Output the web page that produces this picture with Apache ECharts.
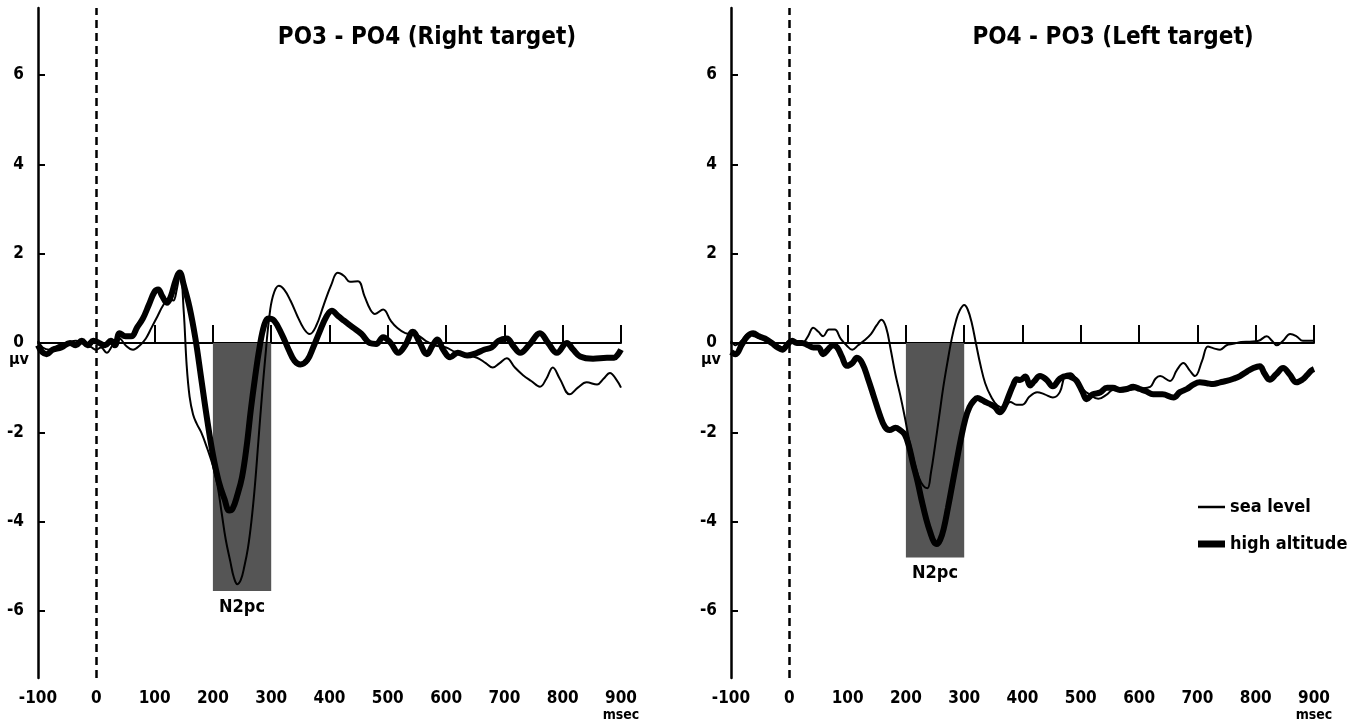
<!DOCTYPE html>
<html>
<head>
<meta charset="utf-8">
<title>N2pc difference waves</title>
<script src="https://cdn.jsdelivr.net/npm/echarts@6/dist/echarts.min.js"></script>
<style>
  html, body { margin: 0; padding: 0; background: #fff; }
  #chart { width: 1355px; height: 727px; }
</style>
</head>
<body>
<div id="chart"></div>
<script>
// 刻度
const xTicks = [-100, 0, 100, 200, 300, 400, 500, 600, 700, 800, 900];
const yTicks = [-6, -4, -2, 0, 2, 4, 6];
const baseTicks = [100, 200, 300, 400, 500, 600, 700, 800, 900];

// 左图 PO3 - PO4 (Right target), sea level
const leftSeaT = [-100, -92, -80, -65, -50, -35, -20, -8, 0, 8, 18, 28, 40, 50, 63, 75, 85, 95, 105, 115, 125, 132, 138, 144, 150, 155, 160, 166, 172, 180, 190, 200, 208, 215, 222, 230, 236, 242, 248, 254, 260, 266, 272, 278, 284, 290, 296, 303, 313, 322, 333, 345, 356, 366, 377, 390, 403, 414, 425, 435, 449, 460, 470, 478, 492, 505, 516, 530, 550, 565, 580, 600, 615, 630, 653, 668, 680, 692, 704, 718, 732, 746, 761, 772, 783, 795, 812, 826, 841, 859, 870, 881, 892, 900];
const leftSeaV = [0.05, -0.1, -0.15, -0.05, 0.0, 0.05, 0.0, -0.1, -0.15, -0.1, -0.22, -0.05, 0.1, -0.05, -0.15, -0.05, 0.1, 0.35, 0.6, 0.85, 1.0, 0.95, 1.2, 1.58, 0.7, -0.5, -1.2, -1.6, -1.8, -2.0, -2.35, -2.75, -3.2, -3.8, -4.4, -4.9, -5.25, -5.4, -5.3, -5.0, -4.6, -4.0, -3.2, -2.2, -1.2, -0.3, 0.5, 1.05, 1.28, 1.2, 0.95, 0.6, 0.32, 0.2, 0.38, 0.85, 1.3, 1.57, 1.5, 1.37, 1.38, 1.05, 0.75, 0.65, 0.75, 0.5, 0.34, 0.22, 0.18, 0.05, -0.05, -0.1, -0.2, -0.25, -0.33, -0.45, -0.55, -0.45, -0.34, -0.55, -0.72, -0.85, -0.98, -0.8, -0.55, -0.8, -1.15, -1.0, -0.88, -0.93, -0.8, -0.67, -0.82, -1.0];

// 左图 high altitude
const leftHighT = [-100, -93, -85, -75, -60, -45, -35, -25, -15, -5, 5, 15, 25, 32, 40, 50, 60, 70, 80, 90, 100, 106, 113, 121, 128, 136, 143, 150, 160, 170, 180, 190, 200, 210, 220, 228, 234, 242, 250, 258, 265, 272, 280, 288, 295, 305, 318, 330, 340, 350, 362, 372, 383, 395, 404, 415, 425, 440, 455, 469, 480, 492, 505, 518, 530, 543, 555, 567, 577, 585, 595, 607, 620, 636, 653, 665, 678, 690, 704, 716, 727, 742, 761, 775, 790, 807, 818, 830, 852, 876, 888, 895, 900];
const leftHighV = [-0.05, -0.2, -0.25, -0.15, -0.1, 0.0, -0.05, 0.05, -0.05, 0.05, 0.0, -0.05, 0.05, -0.05, 0.22, 0.15, 0.15, 0.35, 0.55, 0.85, 1.15, 1.2, 1.05, 0.9, 1.05, 1.4, 1.58, 1.3, 0.8, 0.1, -0.8, -1.7, -2.5, -3.1, -3.5, -3.75, -3.7, -3.4, -3.0, -2.3, -1.5, -0.8, -0.1, 0.4, 0.55, 0.5, 0.2, -0.15, -0.4, -0.48, -0.38, -0.1, 0.25, 0.6, 0.72, 0.6, 0.5, 0.35, 0.2, 0.0, -0.02, 0.13, 0.0, -0.22, -0.05, 0.25, 0.0, -0.25, -0.05, 0.08, -0.15, -0.32, -0.22, -0.28, -0.22, -0.15, -0.1, 0.05, 0.1, -0.08, -0.22, -0.05, 0.22, 0.0, -0.22, 0.0, -0.15, -0.3, -0.35, -0.33, -0.33, -0.25, -0.15];

// 右图 PO4 - PO3 (Left target), sea level
const rightSeaT = [-100, -92, -82, -70, -60, -50, -35, -20, -10, 0, 10, 22, 32, 41, 50, 58, 68, 78, 88, 98, 108, 118, 128, 140, 150, 158, 166, 174, 182, 190, 198, 206, 214, 222, 230, 237, 243, 250, 257, 264, 271, 279, 286, 292, 300, 306, 313, 320, 328, 336, 346, 357, 368, 379, 390, 400, 412, 425, 438, 452, 464, 473, 482, 493, 505, 515, 530, 545, 555, 570, 585, 600, 619, 628, 636, 653, 665, 676, 686, 696, 708, 718, 728, 739, 750, 761, 775, 790, 805, 819, 828, 836, 847, 859, 870, 881, 892, 900];
const rightSeaV = [0.05, -0.05, 0.05, 0.2, 0.15, 0.1, 0.05, -0.05, -0.1, 0.05, 0.05, 0.0, 0.15, 0.34, 0.25, 0.15, 0.3, 0.3, 0.1, -0.05, -0.15, -0.05, 0.05, 0.2, 0.4, 0.52, 0.35, -0.15, -0.7, -1.15, -1.65, -2.2, -2.65, -3.0, -3.2, -3.25, -2.9, -2.3, -1.65, -1.0, -0.45, 0.12, 0.5, 0.72, 0.85, 0.75, 0.45, 0.0, -0.5, -0.9, -1.2, -1.4, -1.45, -1.32, -1.38, -1.38, -1.2, -1.1, -1.15, -1.22, -1.1, -0.72, -0.68, -0.82, -1.05, -1.15, -1.25, -1.15, -1.05, -1.08, -1.05, -1.02, -0.98, -0.8, -0.74, -0.85, -0.6, -0.45, -0.6, -0.74, -0.4, -0.08, -0.12, -0.15, -0.05, -0.02, 0.02, 0.03, 0.05, 0.15, 0.05, -0.05, 0.05, 0.2, 0.15, 0.05, 0.05, 0.05];

// 右图 high altitude
const rightHighT = [-100, -92, -82, -72, -62, -52, -42, -30, -20, -12, -4, 5, 13, 22, 32, 41, 50, 58, 66, 75, 82, 90, 99, 108, 116, 125, 135, 145, 155, 164, 172, 182, 190, 198, 205, 212, 220, 227, 235, 242, 248, 253, 259, 265, 272, 279, 287, 294, 302, 309, 316, 323, 331, 338, 346, 353, 361, 368, 375, 384, 390, 396, 405, 413, 420, 430, 441, 452, 464, 476, 486, 493, 503, 510, 520, 533, 545, 555, 567, 579, 590, 601, 612, 624, 640, 659, 670, 682, 693, 704, 716, 727, 739, 750, 762, 773, 785, 796, 807, 815, 824, 835, 847, 858, 870, 880, 888, 896, 900];
const rightHighV = [-0.2, -0.25, -0.05, 0.15, 0.22, 0.15, 0.1, 0.0, -0.1, -0.15, -0.05, 0.05, 0.0, 0.0, -0.05, -0.1, -0.1, -0.25, -0.15, -0.05, -0.1, -0.3, -0.51, -0.45, -0.33, -0.45, -0.8, -1.2, -1.6, -1.88, -1.95, -1.9, -1.95, -2.05, -2.3, -2.69, -3.1, -3.52, -3.95, -4.25, -4.45, -4.5, -4.4, -4.15, -3.7, -3.21, -2.65, -2.17, -1.7, -1.44, -1.3, -1.23, -1.28, -1.33, -1.38, -1.44, -1.55, -1.45, -1.23, -0.94, -0.81, -0.83, -0.75, -0.95, -0.86, -0.74, -0.82, -0.97, -0.8, -0.74, -0.78, -0.85, -1.1, -1.26, -1.15, -1.11, -1.0, -1.0, -1.05, -1.03, -0.98, -1.03, -1.08, -1.15, -1.15, -1.22, -1.1, -1.03, -0.93, -0.88, -0.9, -0.92, -0.88, -0.85, -0.8, -0.74, -0.64, -0.56, -0.52, -0.68, -0.82, -0.7, -0.56, -0.7, -0.88, -0.82, -0.72, -0.61, -0.58];

// N2pc 时间窗和灰色矩形下沿
const n2pcWindow = [200, 300];
const n2pcBottom = [-5.55, -4.8];

const FONT = "'Liberation Sans Narrow', 'Arial Narrow', 'DejaVu Sans Condensed', sans-serif";

function zip(t, v) {
    return t.map((x, i) => [x, v[i]]);
}

const chart = echarts.init(document.getElementById('chart'), null, { renderer: 'canvas' });

const grids = [
    { left: 38, top: 8, width: 583, height: 670 },
    { left: 731, top: 8, width: 583, height: 670 }
];

function labelAxis(gridIndex) {
    return {
        type: 'value', gridIndex: gridIndex, position: 'bottom',
        min: -100, max: 900, interval: 100,
        axisLine: { show: false, onZero: false },
        axisTick: { show: false },
        splitLine: { show: false },
        axisLabel: {
            margin: 12, color: '#000', fontFamily: FONT, fontWeight: 'bold', fontSize: 17,
            formatter: function (v) { return v === 900 ? '900\n{m|msec}' : String(v); },
            rich: { m: { fontFamily: FONT, fontWeight: 'bold', fontSize: 14, color: '#000', lineHeight: 16 } }
        }
    };
}

function baseAxis(gridIndex) {
    return {
        type: 'value', gridIndex: gridIndex, position: 'bottom',
        min: -100, max: 900,
        axisLine: { show: true, onZero: true, lineStyle: { color: '#000', width: 2 } },
        axisTick: { show: true, inside: true, length: 18, customValues: baseTicks, lineStyle: { color: '#000', width: 2 } },
        axisLabel: { show: false },
        splitLine: { show: false }
    };
}

function yAxis(gridIndex) {
    return {
        type: 'value', gridIndex: gridIndex, min: -7.5, max: 7.5,
        axisLine: { show: true, onZero: false, lineStyle: { color: '#000', width: 2.5 } },
        axisTick: { show: true, inside: true, length: 7, customValues: yTicks, lineStyle: { color: '#000', width: 2 } },
        axisLabel: { margin: 14, customValues: yTicks, color: '#000', fontFamily: FONT, fontWeight: 'bold', fontSize: 17 },
        splitLine: { show: false }
    };
}

function seaSeries(panel, data) {
    return {
        name: 'sea level', type: 'line', xAxisIndex: panel * 2, yAxisIndex: panel,
        data: data, showSymbol: false, symbol: 'none', smooth: 0.4, z: 3,
        color: '#000',
        lineStyle: { color: '#000', width: 2 },
        markArea: {
            silent: true,
            itemStyle: { color: '#555555', opacity: 1 },
            label: { show: true, position: 'bottom', distance: 7, formatter: 'N2pc', color: '#000', fontFamily: FONT, fontWeight: 'bold', fontSize: 18 },
            data: [[{ xAxis: n2pcWindow[0], yAxis: 0 }, { xAxis: n2pcWindow[1], yAxis: n2pcBottom[panel] }]]
        },
        markLine: {
            silent: true, symbol: 'none', label: { show: false },
            lineStyle: { color: '#000', width: 2.5, type: [8, 5] },
            data: [{ xAxis: 0 }]
        }
    };
}

function highSeries(panel, data) {
    return {
        name: 'high altitude', type: 'line', xAxisIndex: panel * 2, yAxisIndex: panel,
        data: data, showSymbol: false, symbol: 'none', smooth: 0.4, z: 4,
        color: '#000',
        lineStyle: { color: '#000', width: 6 }
    };
}

const titleStyle = { fontFamily: FONT, fontWeight: 'bold', fontSize: 24, color: '#000' };
const muStyle = { text: 'μv', fill: '#000', font: 'bold 16px ' + FONT };
const legendText = { fontFamily: FONT, fontWeight: 'bold', fontSize: 18, color: '#000' };

const option = {
    animation: false,
    backgroundColor: '#fff',
    title: [
        { text: 'PO3 - PO4 (Right target)', left: 422, top: 21, textAlign: 'center', textStyle: titleStyle },
        { text: 'PO4 - PO3 (Left target)', left: 1108, top: 21, textAlign: 'center', textStyle: titleStyle }
    ],
    // 两个图例，分别控制线宽
    legend: [
        {
            data: ['sea level'], icon: 'rect', left: 1193, top: 493,
            itemWidth: 27, itemHeight: 2.5, textStyle: legendText
        },
        {
            data: ['high altitude'], icon: 'rect', left: 1193, top: 530,
            itemWidth: 27, itemHeight: 7, textStyle: legendText
        }
    ],
    grid: grids,
    xAxis: [labelAxis(0), baseAxis(0), labelAxis(1), baseAxis(1)],
    yAxis: [yAxis(0), yAxis(1)],
    graphic: [
        { type: 'text', left: 9, top: 352, style: muStyle },
        { type: 'text', left: 701, top: 352, style: muStyle }
    ],
    series: [
        seaSeries(0, zip(leftSeaT, leftSeaV)),
        highSeries(0, zip(leftHighT, leftHighV)),
        seaSeries(1, zip(rightSeaT, rightSeaV)),
        highSeries(1, zip(rightHighT, rightHighV))
    ]
};

chart.setOption(option);
</script>
</body>
</html>
